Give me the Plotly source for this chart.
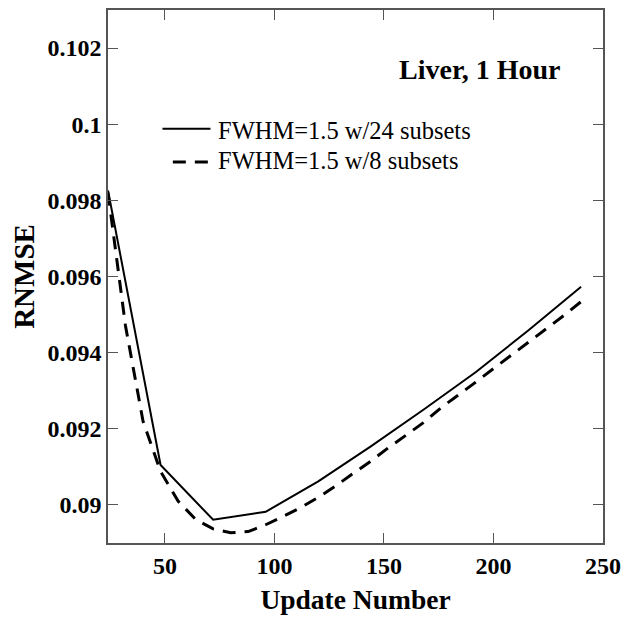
import plotly.graph_objects as go

# Data
updates_24 = [24, 48, 72, 96, 120, 144, 168, 192, 216, 240]
rnmse_24 = [0.09826, 0.09105, 0.08961, 0.08982, 0.09062, 0.09154, 0.09250, 0.09349, 0.09459, 0.09573]

updates_8 = [24, 32, 40, 48, 56, 64, 72, 80, 88, 96, 104, 112, 120, 128, 136, 144,
             152, 160, 168, 176, 184, 192, 200, 208, 216, 224, 232, 240]
rnmse_8 = [0.09820, 0.09470, 0.09220, 0.09088, 0.09010, 0.08962, 0.08937, 0.08927,
           0.08930, 0.08948, 0.08970, 0.08993, 0.09020, 0.09050, 0.09083, 0.09115,
           0.09150, 0.09183, 0.09216, 0.09255, 0.09288, 0.09323, 0.09358, 0.09393,
           0.09427, 0.09461, 0.09497, 0.09534]

series_names = ["FWHM=1.5 w/24 subsets", "FWHM=1.5 w/8 subsets"]
chart_label = "Liver, 1 Hour"

x_ticks = [50, 100, 150, 200, 250]
y_ticks = [0.09, 0.092, 0.094, 0.096, 0.098, 0.1, 0.102]
y_tick_labels = ["0.09", "0.092", "0.094", "0.096", "0.098", "0.1", "0.102"]

serif = "Liberation Serif, Times New Roman, serif"
solid_style = dict(color="black", width=2)
dash_style = dict(color="black", width=3, dash="13px,9px")

fig = go.Figure()
fig.add_trace(go.Scatter(x=updates_24, y=rnmse_24, mode="lines",
                         name=series_names[0], line=solid_style))
fig.add_trace(go.Scatter(x=updates_8, y=rnmse_8, mode="lines",
                         name=series_names[1], line=dash_style))

# Hand-drawn legend (long sample lines like the reference)
legend_rows = [(0.110, 0.207, 0.777, 0.773, solid_style),
               (0.131, 0.207, 0.715, 0.718, dash_style)]
for (x0, x1, ly, ty, st), name in zip(legend_rows, series_names):
    fig.add_shape(type="line", xref="paper", yref="paper", x0=x0, x1=x1, y0=ly, y1=ly,
                  line=st)
    fig.add_annotation(text=name, xref="paper", yref="paper", x=0.219, y=ty,
                       xanchor="left", yanchor="middle", showarrow=False,
                       font=dict(family=serif, size=24.5, color="black"))

fig.add_annotation(text=f"<b>{chart_label}</b>", xref="paper", yref="paper",
                   x=0.7515, y=0.888, xanchor="center", yanchor="middle",
                   showarrow=False,
                   font=dict(family=serif, size=28, color="black"))

axis_common = dict(showgrid=False, zeroline=False, showline=True, linecolor="#555555",
                   linewidth=1.5, mirror="ticks", ticks="inside", ticklen=10,
                   tickcolor="#555555", tickwidth=1.2,
                   tickfont=dict(family=serif, size=24, color="black"))

# The page body has an 8px margin, so the figure is 8px smaller and margins shifted
fig.update_layout(
    width=621, height=618,
    margin=dict(l=100, r=26, t=2, b=83, autoexpand=False),
    paper_bgcolor="white", plot_bgcolor="white",
    showlegend=False,
    xaxis=dict(range=[24, 250], tickvals=x_ticks,
               ticktext=[f"<b>{v}</b>" for v in x_ticks],
               title=dict(text="<b>Update Number</b>", standoff=12,
                          font=dict(family=serif, size=27.5, color="black")),
               **axis_common),
    yaxis=dict(range=[0.089, 0.103], tickvals=y_ticks,
               ticktext=[f"<b>{t}</b>" for t in y_tick_labels],
               title=dict(text="<b>RNMSE</b>", standoff=21,
                          font=dict(family=serif, size=29, color="black")),
               **axis_common),
)

fig.write_html("out.html")
